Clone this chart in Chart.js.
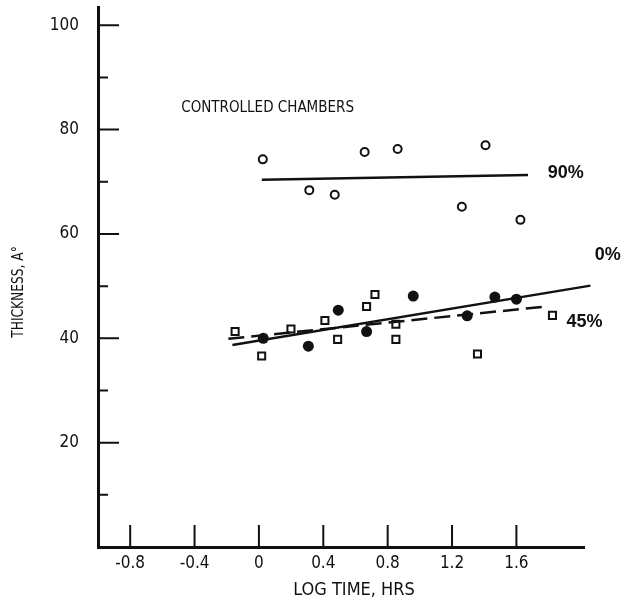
<!DOCTYPE html>
<html>
<head>
<meta charset="utf-8">
<script src="https://cdn.jsdelivr.net/npm/chart.js@4"></script>
<style>
  html, body { margin: 0; padding: 0; background: #fff; }
  #wrap { width: 623px; height: 600px; }
</style>
</head>
<body>
<div id="wrap"><canvas id="thickness"></canvas></div>
<script>
// 90% relative humidity chamber (open circles)
const x90 = [0.024, 0.313, 0.471, 0.657, 0.862, 1.261, 1.408, 1.625]
const y90 = [74.3, 68.4, 67.5, 75.7, 76.3, 65.2, 77.0, 62.7]
// 0% chamber (filled circles)
const x0 = [0.027, 0.307, 0.493, 0.669, 0.959, 1.294, 1.466, 1.600]
const y0 = [40.0, 38.5, 45.4, 41.3, 48.1, 44.3, 47.9, 47.5]
// 45% chamber (open squares)
const x45 = [-0.148, 0.017, 0.199, 0.410, 0.489, 0.669, 0.721, 0.851, 0.851, 1.358, 1.824]
const y45 = [41.3, 36.6, 41.8, 43.4, 39.8, 46.1, 48.4, 42.7, 39.8, 37.0, 44.4]

// fitted lines, end points
const fitX90 = [0.018, 1.672]
const fitY90 = [70.4, 71.3]
const fitX0 = [-0.165, 2.06]
const fitY0 = [38.7, 50.1]
const fitX45 = [-0.19, 1.786]
const fitY45 = [39.9, 46.1]

// axes
const xTicks = [-0.8, -0.4, 0, 0.4, 0.8, 1.2, 1.6]
const xTickLabels = ['-0.8', '-0.4', '0', '0.4', '0.8', '1.2', '1.6']
const yMajor = [20, 40, 60, 80, 100]
const yMinor = [10, 30, 50, 70, 90]

// curve tags
const tagText = ['90%', '0%', '45%']
const tagX = [1.795, 2.087, 1.911]
const tagY = [71.6, 56.0, 43.2]

const NARROW = '"Liberation Sans Narrow", "DejaVu Sans Condensed", sans-serif'
const NUMFONT = '"DejaVu Sans Condensed", "Liberation Sans Narrow", sans-serif'
const INK = '#111'

const pts = (xs, ys) => xs.map((x, i) => ({ x, y: ys[i] }))

// no extra room around the plot for edge labels
const noPad = s => {
  s.paddingTop = 0
  s.paddingBottom = 0
  s.paddingLeft = 0
  s.paddingRight = 0
}

// ticks point inward from the axes, labels and tags drawn on top
const decor = {
  id: 'decor',
  afterDraw(chart) {
    const { ctx, scales: { x, y }, chartArea } = chart
    ctx.save()
    ctx.strokeStyle = INK
    ctx.lineWidth = 2
    ctx.beginPath()
    xTicks.forEach(v => {
      const px = x.getPixelForValue(v)
      ctx.moveTo(px, chartArea.bottom)
      ctx.lineTo(px, chartArea.bottom - 22)
    })
    yMajor.forEach(v => {
      const py = y.getPixelForValue(v)
      ctx.moveTo(chartArea.left, py)
      ctx.lineTo(chartArea.left + 21, py)
    })
    yMinor.forEach(v => {
      const py = y.getPixelForValue(v)
      ctx.moveTo(chartArea.left, py)
      ctx.lineTo(chartArea.left + 10, py)
    })
    ctx.stroke()

    ctx.fillStyle = INK
    ctx.textBaseline = 'middle'
    ctx.textAlign = 'left'
    ctx.font = 'bold 18px "Liberation Sans", Arial, sans-serif'
    tagText.forEach((t, i) => {
      ctx.fillText(t, x.getPixelForValue(tagX[i]), y.getPixelForValue(tagY[i]))
    })

    ctx.font = '15px ' + NARROW
    ctx.fillText('CONTROLLED CHAMBERS', x.getPixelForValue(-0.483), y.getPixelForValue(84.1))

    // axis titles
    ctx.textAlign = 'center'
    ctx.font = '18px ' + NARROW
    ctx.fillText('LOG TIME, HRS', 354, 590)
    ctx.translate(19, 292)
    ctx.rotate(-Math.PI / 2)
    ctx.scale(0.85, 1)
    ctx.font = '16px ' + NARROW
    ctx.fillText('THICKNESS, A°', 0, 0)
    ctx.restore()
  }
}

const openPoint = {
  showLine: false,
  borderColor: INK,
  backgroundColor: '#fff',
  borderWidth: 2
}

new Chart(document.getElementById('thickness'), {
  type: 'scatter',
  data: {
    datasets: [
      { data: pts(fitX90, fitY90), showLine: true, pointRadius: 0, borderColor: INK, borderWidth: 2.5 },
      { data: pts(fitX0, fitY0), showLine: true, pointRadius: 0, borderColor: INK, borderWidth: 2.5, clip: false },
      { data: pts(fitX45, fitY45), showLine: true, pointRadius: 0, borderColor: INK, borderWidth: 2.5, borderDash: [16, 7] },
      { ...openPoint, data: pts(x90, y90), pointStyle: 'circle', pointRadius: 4 },
      { ...openPoint, data: pts(x45, y45), pointStyle: 'rect', pointRadius: 5 },
      { data: pts(x0, y0), showLine: false, pointStyle: 'circle', pointRadius: 5.5, borderWidth: 0, backgroundColor: INK }
    ]
  },
  options: {
    responsive: true,
    maintainAspectRatio: false,
    animation: false,
    layout: { padding: { top: 7, right: 39, left: 0, bottom: 0 } },
    plugins: { legend: { display: false }, tooltip: { enabled: false } },
    scales: {
      x: {
        type: 'linear',
        min: -1,
        max: 2.02,
        afterFit: s => { s.height = 53; noPad(s) },
        afterBuildTicks: s => { s.ticks = xTicks.map(v => ({ value: v })) },
        grid: { display: true, drawOnChartArea: false, drawTicks: false },
        border: { display: true, color: INK, width: 3 },
        ticks: {
          color: INK,
          padding: 6,
          maxRotation: 0,
          autoSkip: false,
          font: { family: NUMFONT, size: 17 },
          callback: v => xTickLabels[xTicks.indexOf(v)] ?? ''
        }
      },
      y: {
        type: 'linear',
        min: 0,
        max: 103.5,
        afterFit: s => { s.width = 98; noPad(s) },
        afterBuildTicks: s => { s.ticks = yMajor.map(v => ({ value: v })) },
        grid: { display: true, drawOnChartArea: false, drawTicks: false },
        border: { display: true, color: INK, width: 3 },
        ticks: {
          color: INK,
          padding: 19,
          font: { family: NUMFONT, size: 17 },
          callback: v => String(v)
        }
      }
    }
  },
  plugins: [decor]
})
</script>
</body>
</html>
